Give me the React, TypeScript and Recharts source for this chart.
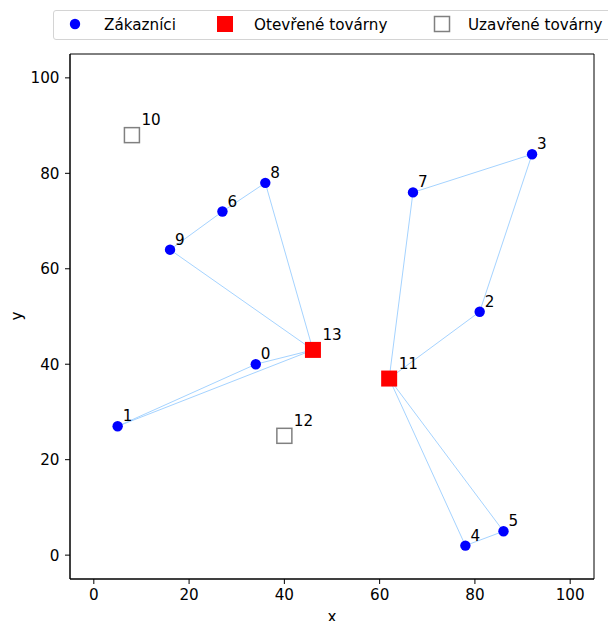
import React from 'react';
import { ScatterChart, Scatter, XAxis, YAxis, ReferenceArea } from 'recharts';

// customers 0..9
const CUSTOMER_X = [34, 5, 81, 92, 78, 86, 27, 67, 36, 16];
const CUSTOMER_Y = [40, 27, 51, 84, 2, 5, 72, 76, 78, 64];

// factories 10..13
const FACTORY_IDS = [10, 11, 12, 13];
const FACTORY_X = [8, 62, 40, 46];
const FACTORY_Y = [88, 37, 25, 43];
const FACTORY_OPEN = [false, true, false, true];

// vehicle routes (node ids)
const ROUTES = [
  [13, 0, 1, 13],
  [13, 9, 6, 8, 13],
  [11, 7, 3, 2, 11],
  [11, 4, 5, 11],
];

const AXIS_TICKS = [0, 20, 40, 60, 80, 100];

const FONT = 'DejaVu Sans, sans-serif';
const FS = 15.2;
const ROUTE_COLOR = '#a5d3ff';

const nodeOf = (id: number) => {
  if (id < CUSTOMER_X.length) return { id, x: CUSTOMER_X[id], y: CUSTOMER_Y[id] };
  const i = FACTORY_IDS.indexOf(id);
  return { id, x: FACTORY_X[i], y: FACTORY_Y[i] };
};

const customers = CUSTOMER_X.map((x, i) => ({ id: i, x, y: CUSTOMER_Y[i] }));
const factories = FACTORY_IDS.map((id, i) => ({ id, x: FACTORY_X[i], y: FACTORY_Y[i], open: FACTORY_OPEN[i] }));
const openFactories = factories.filter((f) => f.open);
const closedFactories = factories.filter((f) => !f.open);
const routeData = ROUTES.map((r) => r.map(nodeOf));

const Empty = () => <g />;

const CustomerDot = (props: any) => {
  const { cx, cy, payload } = props;
  return (
    <g>
      <circle cx={cx} cy={cy} r={5.2} fill="#0000ff" />
      <text x={cx + 5} y={cy - 5} fontSize={FS} fill="#000" fontFamily={FONT}>
        {payload.id}
      </text>
    </g>
  );
};

const OpenSquare = (props: any) => {
  const { cx, cy, payload } = props;
  return (
    <g>
      <rect x={cx - 8} y={cy - 8} width={16} height={16} fill="#ff0000" />
      <text x={cx + 9.5} y={cy - 9.8} fontSize={FS} fill="#000" fontFamily={FONT}>
        {payload.id}
      </text>
    </g>
  );
};

const ClosedSquare = (props: any) => {
  const { cx, cy, payload } = props;
  return (
    <g>
      <rect x={cx - 7.5} y={cy - 7.5} width={15} height={15} fill="none" stroke="#808080" strokeWidth={1.5} />
      <text x={cx + 9.5} y={cy - 9.8} fontSize={FS} fill="#000" fontFamily={FONT}>
        {payload.id}
      </text>
    </g>
  );
};

const LegendBox = () => (
  <div
    style={{
      position: 'absolute',
      left: 53,
      top: 10,
      width: 600,
      height: 28,
      border: '1px solid #d4d4d4',
      borderRadius: 3,
      background: '#fff',
    }}
  >
    <svg width={600} height={28} style={{ position: 'absolute', left: 0, top: 0 }}>
      <circle cx={21} cy={13} r={5.2} fill="#0000ff" />
      <text x={50} y={18.5} fontSize={FS} fontFamily={FONT}>Zákazníci</text>
      <rect x={163} y={5} width={16} height={16} fill="#ff0000" />
      <text x={200} y={18.5} fontSize={FS} fontFamily={FONT}>Otevřené továrny</text>
      <rect x={380.5} y={5.5} width={15} height={15} fill="none" stroke="#808080" strokeWidth={1.5} />
      <text x={414} y={18.5} fontSize={FS} fontFamily={FONT}>Uzavřené továrny</text>
    </svg>
  </div>
);

export default function App() {
  return (
    <div
      style={{
        position: 'absolute',
        left: 0,
        top: 0,
        width: 608,
        height: 621,
        overflow: 'hidden',
        background: '#fff',
        fontFamily: FONT,
      }}
    >
      <ScatterChart width={608} height={621} margin={{ top: 54, right: 14, bottom: 0, left: 0 }}>
        <XAxis
          type="number"
          dataKey="x"
          domain={[-5, 105]}
          ticks={AXIS_TICKS}
          height={42}
          tickSize={5}
          tickMargin={5.5}
          tick={{ fill: '#000', fontSize: FS }}
          tickLine={{ stroke: '#000' }}
          axisLine={{ stroke: '#000' }}
          allowDataOverflow
          label={{ value: 'x', position: 'insideBottom', offset: -1, fill: '#000', fontSize: FS }}
        />
        <YAxis
          type="number"
          dataKey="y"
          domain={[-5, 105]}
          ticks={AXIS_TICKS}
          width={70}
          tickSize={5}
          tickMargin={5.5}
          tick={{ fill: '#000', fontSize: FS }}
          tickLine={{ stroke: '#000' }}
          axisLine={{ stroke: '#000' }}
          allowDataOverflow
        />
        <ReferenceArea x1={-5} x2={105} y1={-5} y2={105} fill="none" stroke="#000" strokeWidth={1} />
        {routeData.map((r, i) => (
          <Scatter
            key={`route-${i}`}
            data={r}
            line={{ stroke: ROUTE_COLOR, strokeWidth: 1 }}
            shape={Empty}
            legendType="none"
            isAnimationActive={false}
          />
        ))}
        <Scatter name="Zákazníci" data={customers} shape={CustomerDot} isAnimationActive={false} />
        <Scatter name="Otevřené továrny" data={openFactories} shape={OpenSquare} isAnimationActive={false} />
        <Scatter name="Uzavřené továrny" data={closedFactories} shape={ClosedSquare} isAnimationActive={false} />
      </ScatterChart>
      <LegendBox />
      <svg width={40} height={621} style={{ position: 'absolute', left: 0, top: 0 }}>
        <text
          x={17}
          y={316}
          transform="rotate(-90, 17, 316)"
          textAnchor="middle"
          dominantBaseline="central"
          fontSize={FS}
          fontFamily={FONT}
          fill="#000"
        >
          y
        </text>
      </svg>
    </div>
  );
}
